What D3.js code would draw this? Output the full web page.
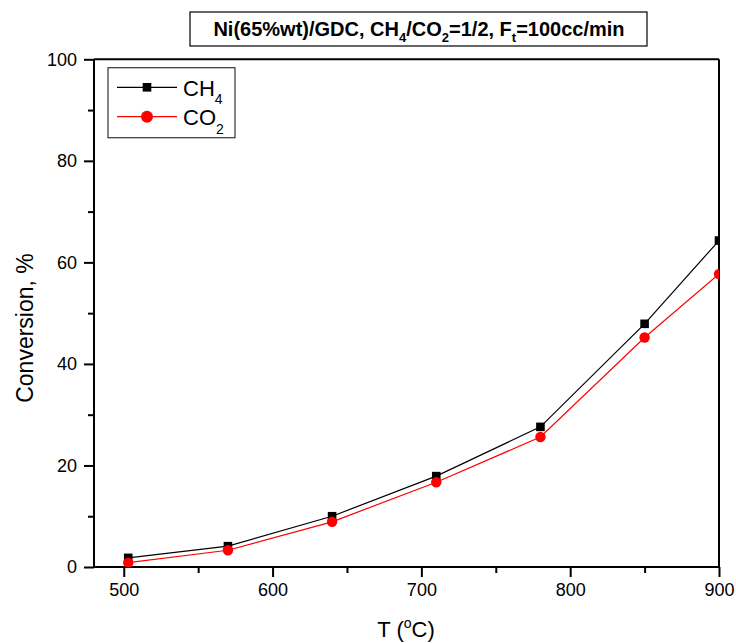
<!DOCTYPE html>
<html><head><meta charset="utf-8">
<script src="https://cdn.jsdelivr.net/npm/d3@7"></script>
<style>body{margin:0;background:#fff}svg{display:block}text{font-family:"Liberation Sans",Arial,sans-serif}</style>
</head><body>
<svg id="c" width="736" height="643"></svg>
<script>
const temps = [503, 570, 640, 710, 780, 850, 900];
const ch4 = [1.8, 4.1, 10.0, 17.9, 27.6, 47.9, 64.3];
const co2 = [0.85, 3.3, 8.9, 16.7, 25.6, 45.2, 57.7];
const xTicks = [500, 600, 700, 800, 900];
const xMinor = [550, 650, 750, 850];
const yTicks = [0, 20, 40, 60, 80, 100];
const yMinor = [10, 30, 50, 70, 90];

const svg = d3.select("#c");
const L = 94, R = 719, T = 59.3, B = 567;
const x = d3.scaleLinear().domain([480, 900]).range([L, R]);
const y = d3.scaleLinear().domain([0, 100]).range([B, T]);

svg.append("defs").append("clipPath").attr("id", "clip")
  .append("rect").attr("x", L).attr("y", T).attr("width", R - L).attr("height", B - T);

// frame top/right
svg.append("line").attr("x1", L).attr("x2", R).attr("y1", T).attr("y2", T).attr("stroke", "#000").attr("stroke-width", 2);
svg.append("line").attr("x1", R).attr("x2", R).attr("y1", T).attr("y2", B).attr("stroke", "#000").attr("stroke-width", 2);

// axes
const xa = svg.append("g").attr("transform", `translate(0,${B})`)
  .call(d3.axisBottom(x).tickValues(xTicks).tickSize(10).tickPadding(6).tickFormat(d3.format("d")));
const xm = svg.append("g").attr("transform", `translate(0,${B})`)
  .call(d3.axisBottom(x).tickValues(xMinor).tickSize(6).tickFormat(""));
const ya = svg.append("g").attr("transform", `translate(${L},0)`)
  .call(d3.axisLeft(y).tickValues(yTicks).tickSize(10).tickPadding(7).tickFormat(d3.format("d")));
const ym = svg.append("g").attr("transform", `translate(${L},0)`)
  .call(d3.axisLeft(y).tickValues(yMinor).tickSize(6).tickFormat(""));
[xa, xm, ya, ym].forEach(g => {
  g.select(".domain").attr("stroke", "#000").attr("stroke-width", 2);
  g.selectAll(".tick line").attr("stroke", "#000").attr("stroke-width", 2);
  g.selectAll("text").attr("font-size", 18).attr("fill", "#000").style("font-family", '"Liberation Sans",Arial,sans-serif');
});
xa.select(".domain").attr("d", `M${L},0H${R}`);
ya.select(".domain").attr("d", `M0,${B}V${T}`);
xm.select(".domain").remove(); ym.select(".domain").remove();

// data
const plot = svg.append("g").attr("clip-path", "url(#clip)");
const ln = d3.line().x(d => x(d[0])).y(d => y(d[1]));
const s1 = temps.map((t, i) => [t, ch4[i]]);
const s2 = temps.map((t, i) => [t, co2[i]]);
plot.append("path").attr("d", ln(s1)).attr("fill", "none").attr("stroke", "#000").attr("stroke-width", 1.2);
plot.append("path").attr("d", ln(s2)).attr("fill", "none").attr("stroke", "#ff0000").attr("stroke-width", 1.2);
plot.selectAll(".sq").data(s1).enter().append("rect")
  .attr("x", d => x(d[0]) - 4.3).attr("y", d => y(d[1]) - 4.3).attr("width", 8.6).attr("height", 8.6).attr("fill", "#000");
plot.selectAll(".ci").data(s2).enter().append("circle")
  .attr("cx", d => x(d[0])).attr("cy", d => y(d[1])).attr("r", 5.2).attr("fill", "#ff0000");

// legend
const lg = svg.append("g");
lg.append("rect").attr("x", 108).attr("y", 67.7).attr("width", 127).attr("height", 70).attr("fill", "#fff").attr("stroke", "#333").attr("stroke-width", 1.2);
lg.append("line").attr("x1", 117).attr("x2", 177).attr("y1", 87.3).attr("y2", 87.3).attr("stroke", "#000").attr("stroke-width", 1.2);
lg.append("rect").attr("x", 142.7).attr("y", 83).attr("width", 8.6).attr("height", 8.6).attr("fill", "#000");
lg.append("line").attr("x1", 117).attr("x2", 177).attr("y1", 116.7).attr("y2", 116.7).attr("stroke", "#ff0000").attr("stroke-width", 1.2);
lg.append("circle").attr("cx", 147).attr("cy", 116.7).attr("r", 6).attr("fill", "#ff0000");
const t1 = lg.append("text").attr("x", 183).attr("y", 95.7).attr("font-size", 22);
t1.append("tspan").text("CH");
t1.append("tspan").text("4").attr("font-size", 14).attr("dy", 8);
const t2 = lg.append("text").attr("x", 183).attr("y", 125).attr("font-size", 22);
t2.append("tspan").text("CO");
t2.append("tspan").text("2").attr("font-size", 14).attr("dy", 9);

// title
svg.append("rect").attr("x", 190).attr("y", 12).attr("width", 457).attr("height", 34).attr("fill", "#fff").attr("stroke", "#000").attr("stroke-width", 1.2);
const tt = svg.append("text").attr("x", 419).attr("y", 36).attr("text-anchor", "middle").attr("font-size", 20).attr("font-weight", "bold");
tt.append("tspan").text("Ni(65%wt)/GDC, CH");
tt.append("tspan").text("4").attr("font-size", 13).attr("dy", 6);
tt.append("tspan").text("/CO").attr("dy", -6);
tt.append("tspan").text("2").attr("font-size", 13).attr("dy", 6);
tt.append("tspan").text("=1/2, F").attr("dy", -6);
tt.append("tspan").text("t").attr("font-size", 13).attr("dy", 6);
tt.append("tspan").text("=100cc/min").attr("dy", -6);

// axis titles
svg.append("text").attr("transform", "translate(33,328) rotate(-90)").attr("text-anchor", "middle").attr("font-size", 23).text("Conversion, %");
const xt = svg.append("text").attr("x", 406).attr("y", 637).attr("text-anchor", "middle").attr("font-size", 22);
xt.append("tspan").text("T (");
xt.append("tspan").text("o").attr("font-size", 14).attr("dy", -9);
xt.append("tspan").text("C)").attr("dy", 9);
</script>
</body></html>
